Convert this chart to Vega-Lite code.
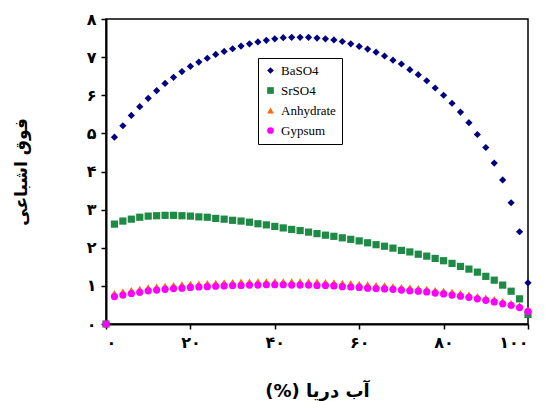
{
  "$schema": "https://vega.github.io/schema/vega-lite/v6.json",
  "autosize": "none",
  "width": 422,
  "height": 305,
  "padding": {"left": 106, "top": 19, "right": 17, "bottom": 77},
  "background": "white",
  "config": {
    "view": {"stroke": "black", "strokeWidth": 1.5},
    "axis": {
      "grid": false,
      "domainColor": "black",
      "domainWidth": 2,
      "tickColor": "black",
      "tickWidth": 1.5,
      "tickSize": 5,
      "labelFont": "DejaVu Sans",
      "labelFontWeight": "bold",
      "labelFontSize": 16,
      "labelColor": "black",
      "titleFont": "DejaVu Sans",
      "titleFontWeight": "bold",
      "titleColor": "black"
    },
    "legend": {
      "orient": "none",
      "legendX": 152,
      "legendY": 39,
      "strokeColor": "black",
      "fillColor": "white",
      "padding": 6,
      "labelFont": "Liberation Serif",
      "labelFontSize": 13,
      "labelColor": "black",
      "labelOffset": 4,
      "rowPadding": 6,
      "symbolSize": 45,
      "symbolStrokeWidth": 0
    }
  },
  "data": {
    "values": [
      {"s":"BaSO4","x":0,"y":0},{"s":"BaSO4","x":2,"y":4.90},{"s":"BaSO4","x":4,"y":5.20},{"s":"BaSO4","x":6,"y":5.47},{"s":"BaSO4","x":8,"y":5.70},{"s":"BaSO4","x":10,"y":5.92},{"s":"BaSO4","x":12,"y":6.12},{"s":"BaSO4","x":14,"y":6.31},{"s":"BaSO4","x":16,"y":6.47},{"s":"BaSO4","x":18,"y":6.62},{"s":"BaSO4","x":20,"y":6.76},{"s":"BaSO4","x":22,"y":6.87},{"s":"BaSO4","x":24,"y":6.97},{"s":"BaSO4","x":26,"y":7.07},{"s":"BaSO4","x":28,"y":7.15},{"s":"BaSO4","x":30,"y":7.22},{"s":"BaSO4","x":32,"y":7.29},{"s":"BaSO4","x":34,"y":7.35},{"s":"BaSO4","x":36,"y":7.40},{"s":"BaSO4","x":38,"y":7.44},{"s":"BaSO4","x":40,"y":7.48},{"s":"BaSO4","x":42,"y":7.51},{"s":"BaSO4","x":44,"y":7.52},{"s":"BaSO4","x":46,"y":7.52},{"s":"BaSO4","x":48,"y":7.52},{"s":"BaSO4","x":50,"y":7.50},{"s":"BaSO4","x":52,"y":7.48},{"s":"BaSO4","x":54,"y":7.45},{"s":"BaSO4","x":56,"y":7.41},{"s":"BaSO4","x":58,"y":7.35},{"s":"BaSO4","x":60,"y":7.28},{"s":"BaSO4","x":62,"y":7.21},{"s":"BaSO4","x":64,"y":7.13},{"s":"BaSO4","x":66,"y":7.03},{"s":"BaSO4","x":68,"y":6.92},{"s":"BaSO4","x":70,"y":6.82},{"s":"BaSO4","x":72,"y":6.67},{"s":"BaSO4","x":74,"y":6.54},{"s":"BaSO4","x":76,"y":6.38},{"s":"BaSO4","x":78,"y":6.19},{"s":"BaSO4","x":80,"y":6.00},{"s":"BaSO4","x":82,"y":5.79},{"s":"BaSO4","x":84,"y":5.56},{"s":"BaSO4","x":86,"y":5.28},{"s":"BaSO4","x":88,"y":4.97},{"s":"BaSO4","x":90,"y":4.63},{"s":"BaSO4","x":92,"y":4.22},{"s":"BaSO4","x":94,"y":3.78},{"s":"BaSO4","x":96,"y":3.18},{"s":"BaSO4","x":98,"y":2.42},{"s":"BaSO4","x":100,"y":1.08},
      {"s":"SrSO4","x":0,"y":0},{"s":"SrSO4","x":2,"y":2.62},{"s":"SrSO4","x":4,"y":2.70},{"s":"SrSO4","x":6,"y":2.75},{"s":"SrSO4","x":8,"y":2.80},{"s":"SrSO4","x":10,"y":2.83},{"s":"SrSO4","x":12,"y":2.84},{"s":"SrSO4","x":14,"y":2.85},{"s":"SrSO4","x":16,"y":2.85},{"s":"SrSO4","x":18,"y":2.84},{"s":"SrSO4","x":20,"y":2.83},{"s":"SrSO4","x":22,"y":2.81},{"s":"SrSO4","x":24,"y":2.80},{"s":"SrSO4","x":26,"y":2.77},{"s":"SrSO4","x":28,"y":2.75},{"s":"SrSO4","x":30,"y":2.72},{"s":"SrSO4","x":32,"y":2.70},{"s":"SrSO4","x":34,"y":2.67},{"s":"SrSO4","x":36,"y":2.63},{"s":"SrSO4","x":38,"y":2.60},{"s":"SrSO4","x":40,"y":2.56},{"s":"SrSO4","x":42,"y":2.52},{"s":"SrSO4","x":44,"y":2.48},{"s":"SrSO4","x":46,"y":2.45},{"s":"SrSO4","x":48,"y":2.41},{"s":"SrSO4","x":50,"y":2.37},{"s":"SrSO4","x":52,"y":2.33},{"s":"SrSO4","x":54,"y":2.30},{"s":"SrSO4","x":56,"y":2.26},{"s":"SrSO4","x":58,"y":2.22},{"s":"SrSO4","x":60,"y":2.18},{"s":"SrSO4","x":62,"y":2.13},{"s":"SrSO4","x":64,"y":2.08},{"s":"SrSO4","x":66,"y":2.04},{"s":"SrSO4","x":68,"y":1.99},{"s":"SrSO4","x":70,"y":1.93},{"s":"SrSO4","x":72,"y":1.89},{"s":"SrSO4","x":74,"y":1.83},{"s":"SrSO4","x":76,"y":1.78},{"s":"SrSO4","x":78,"y":1.72},{"s":"SrSO4","x":80,"y":1.66},{"s":"SrSO4","x":82,"y":1.59},{"s":"SrSO4","x":84,"y":1.51},{"s":"SrSO4","x":86,"y":1.44},{"s":"SrSO4","x":88,"y":1.36},{"s":"SrSO4","x":90,"y":1.25},{"s":"SrSO4","x":92,"y":1.15},{"s":"SrSO4","x":94,"y":1.02},{"s":"SrSO4","x":96,"y":0.86},{"s":"SrSO4","x":98,"y":0.66},{"s":"SrSO4","x":100,"y":0.25},
      {"s":"Anhydrate","x":0,"y":0},{"s":"Anhydrate","x":2,"y":0.81},{"s":"Anhydrate","x":4,"y":0.85},{"s":"Anhydrate","x":6,"y":0.89},{"s":"Anhydrate","x":8,"y":0.92},{"s":"Anhydrate","x":10,"y":0.96},{"s":"Anhydrate","x":12,"y":0.98},{"s":"Anhydrate","x":14,"y":1.00},{"s":"Anhydrate","x":16,"y":1.02},{"s":"Anhydrate","x":18,"y":1.04},{"s":"Anhydrate","x":20,"y":1.05},{"s":"Anhydrate","x":22,"y":1.06},{"s":"Anhydrate","x":24,"y":1.07},{"s":"Anhydrate","x":26,"y":1.08},{"s":"Anhydrate","x":28,"y":1.09},{"s":"Anhydrate","x":30,"y":1.10},{"s":"Anhydrate","x":32,"y":1.11},{"s":"Anhydrate","x":34,"y":1.11},{"s":"Anhydrate","x":36,"y":1.12},{"s":"Anhydrate","x":38,"y":1.12},{"s":"Anhydrate","x":40,"y":1.12},{"s":"Anhydrate","x":42,"y":1.12},{"s":"Anhydrate","x":44,"y":1.12},{"s":"Anhydrate","x":46,"y":1.12},{"s":"Anhydrate","x":48,"y":1.11},{"s":"Anhydrate","x":50,"y":1.11},{"s":"Anhydrate","x":52,"y":1.10},{"s":"Anhydrate","x":54,"y":1.09},{"s":"Anhydrate","x":56,"y":1.08},{"s":"Anhydrate","x":58,"y":1.07},{"s":"Anhydrate","x":60,"y":1.05},{"s":"Anhydrate","x":62,"y":1.04},{"s":"Anhydrate","x":64,"y":1.02},{"s":"Anhydrate","x":66,"y":1.01},{"s":"Anhydrate","x":68,"y":0.99},{"s":"Anhydrate","x":70,"y":0.97},{"s":"Anhydrate","x":72,"y":0.96},{"s":"Anhydrate","x":74,"y":0.94},{"s":"Anhydrate","x":76,"y":0.92},{"s":"Anhydrate","x":78,"y":0.89},{"s":"Anhydrate","x":80,"y":0.87},{"s":"Anhydrate","x":82,"y":0.84},{"s":"Anhydrate","x":84,"y":0.81},{"s":"Anhydrate","x":86,"y":0.77},{"s":"Anhydrate","x":88,"y":0.73},{"s":"Anhydrate","x":90,"y":0.69},{"s":"Anhydrate","x":92,"y":0.65},{"s":"Anhydrate","x":94,"y":0.60},{"s":"Anhydrate","x":96,"y":0.55},{"s":"Anhydrate","x":98,"y":0.49},{"s":"Anhydrate","x":100,"y":0.38},
      {"s":"Gypsum","x":0,"y":0},{"s":"Gypsum","x":2,"y":0.72},{"s":"Gypsum","x":4,"y":0.76},{"s":"Gypsum","x":6,"y":0.80},{"s":"Gypsum","x":8,"y":0.83},{"s":"Gypsum","x":10,"y":0.87},{"s":"Gypsum","x":12,"y":0.89},{"s":"Gypsum","x":14,"y":0.91},{"s":"Gypsum","x":16,"y":0.93},{"s":"Gypsum","x":18,"y":0.94},{"s":"Gypsum","x":20,"y":0.96},{"s":"Gypsum","x":22,"y":0.97},{"s":"Gypsum","x":24,"y":0.98},{"s":"Gypsum","x":26,"y":0.99},{"s":"Gypsum","x":28,"y":1.00},{"s":"Gypsum","x":30,"y":1.01},{"s":"Gypsum","x":32,"y":1.01},{"s":"Gypsum","x":34,"y":1.02},{"s":"Gypsum","x":36,"y":1.02},{"s":"Gypsum","x":38,"y":1.03},{"s":"Gypsum","x":40,"y":1.03},{"s":"Gypsum","x":42,"y":1.03},{"s":"Gypsum","x":44,"y":1.02},{"s":"Gypsum","x":46,"y":1.02},{"s":"Gypsum","x":48,"y":1.02},{"s":"Gypsum","x":50,"y":1.01},{"s":"Gypsum","x":52,"y":1.01},{"s":"Gypsum","x":54,"y":1.00},{"s":"Gypsum","x":56,"y":0.98},{"s":"Gypsum","x":58,"y":0.97},{"s":"Gypsum","x":60,"y":0.96},{"s":"Gypsum","x":62,"y":0.94},{"s":"Gypsum","x":64,"y":0.93},{"s":"Gypsum","x":66,"y":0.92},{"s":"Gypsum","x":68,"y":0.91},{"s":"Gypsum","x":70,"y":0.89},{"s":"Gypsum","x":72,"y":0.87},{"s":"Gypsum","x":74,"y":0.86},{"s":"Gypsum","x":76,"y":0.84},{"s":"Gypsum","x":78,"y":0.81},{"s":"Gypsum","x":80,"y":0.79},{"s":"Gypsum","x":82,"y":0.76},{"s":"Gypsum","x":84,"y":0.73},{"s":"Gypsum","x":86,"y":0.70},{"s":"Gypsum","x":88,"y":0.66},{"s":"Gypsum","x":90,"y":0.62},{"s":"Gypsum","x":92,"y":0.58},{"s":"Gypsum","x":94,"y":0.53},{"s":"Gypsum","x":96,"y":0.49},{"s":"Gypsum","x":98,"y":0.43},{"s":"Gypsum","x":100,"y":0.33}
    ]
  },
  "mark": {"type": "point", "filled": true, "opacity": 1, "size": 52},
  "encoding": {
    "x": {
      "field": "x",
      "type": "quantitative",
      "scale": {"domain": [0, 100], "nice": false, "zero": false},
      "axis": {
        "values": [0, 20, 40, 60, 80, 100],
        "labelPadding": 5,
        "title": "آب دریا (%)\u200F",
        "titleFontSize": 18,
        "titlePadding": 32,
        "labelExpr": "replace(replace(replace(replace(replace(replace(replace(replace(replace(datum.label,regexp('0','g'),'۰'),regexp('1','g'),'۱'),regexp('2','g'),'۲'),regexp('3','g'),'۳'),regexp('4','g'),'۴'),regexp('5','g'),'۵'),regexp('6','g'),'۶'),regexp('7','g'),'۷'),regexp('8','g'),'۸')"
      }
    },
    "y": {
      "field": "y",
      "type": "quantitative",
      "scale": {"domain": [0, 8], "nice": false},
      "axis": {
        "values": [0, 1, 2, 3, 4, 5, 6, 7, 8],
        "labelPadding": 5,
        "title": "فوق اشباعی",
        "titleFontSize": 17,
        "titlePadding": 56,
        "labelExpr": "replace(replace(replace(replace(replace(replace(replace(replace(replace(datum.label,regexp('0','g'),'۰'),regexp('1','g'),'۱'),regexp('2','g'),'۲'),regexp('3','g'),'۳'),regexp('4','g'),'۴'),regexp('5','g'),'۵'),regexp('6','g'),'۶'),regexp('7','g'),'۷'),regexp('8','g'),'۸')"
      }
    },
    "color": {
      "field": "s",
      "type": "nominal",
      "scale": {
        "domain": ["BaSO4", "SrSO4", "Anhydrate", "Gypsum"],
        "range": ["#000080", "#1e8a45", "#ff6600", "#ff00ff"]
      },
      "legend": {"title": null}
    },
    "shape": {
      "field": "s",
      "type": "nominal",
      "scale": {
        "domain": ["BaSO4", "SrSO4", "Anhydrate", "Gypsum"],
        "range": ["diamond", "square", "triangle-up", "circle"]
      },
      "legend": {"title": null}
    }
  }
}
